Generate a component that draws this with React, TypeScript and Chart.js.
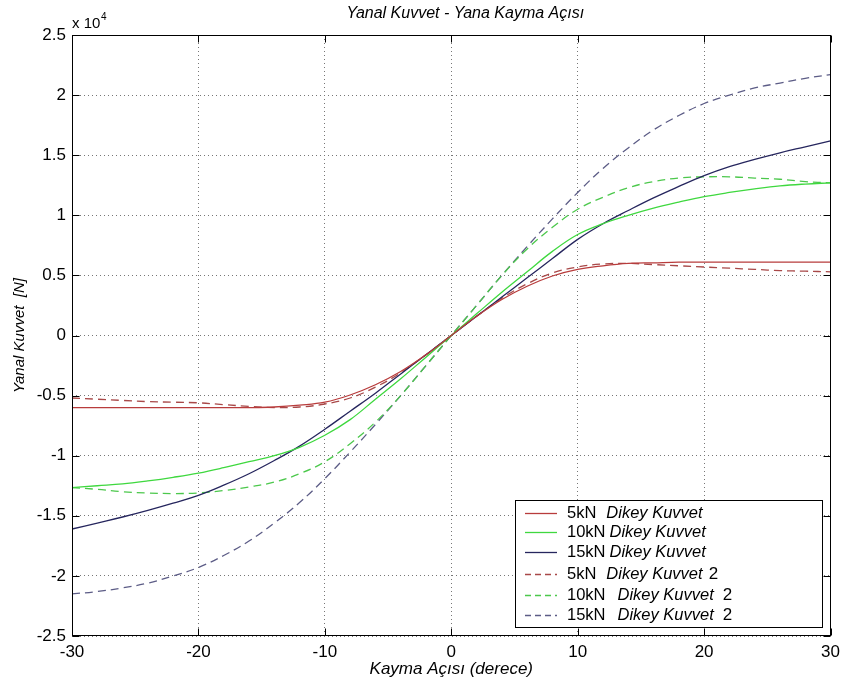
import React, { useEffect, useRef } from 'react';
import { Chart, registerables } from 'chart.js';

Chart.register(...registerables);

// Kayma açısı (derece)
const angles = [-30, -28, -26, -24, -22, -20, -18, -16, -14, -12, -10, -8, -6, -4, -2, 0, 2, 4, 6, 8, 10, 12, 14, 16, 18, 20, 22, 24, 26, 28, 30];

// Yanal kuvvet (x 10^4 N)
const kuvvet5kN = [-0.60, -0.60, -0.60, -0.60, -0.60, -0.60, -0.60, -0.60, -0.595, -0.58, -0.555, -0.495, -0.41, -0.30, -0.16, 0, 0.16, 0.30, 0.41, 0.495, 0.55, 0.58, 0.60, 0.605, 0.61, 0.61, 0.61, 0.61, 0.61, 0.61, 0.61];
const kuvvet10kN = [-1.265, -1.25, -1.235, -1.21, -1.18, -1.145, -1.10, -1.05, -1.00, -0.93, -0.83, -0.70, -0.53, -0.36, -0.18, 0, 0.18, 0.36, 0.53, 0.70, 0.84, 0.93, 1.00, 1.06, 1.11, 1.155, 1.19, 1.22, 1.245, 1.26, 1.27];
const kuvvet15kN = [-1.61, -1.56, -1.51, -1.455, -1.395, -1.33, -1.245, -1.15, -1.04, -0.92, -0.78, -0.63, -0.48, -0.32, -0.16, 0, 0.16, 0.32, 0.48, 0.64, 0.80, 0.93, 1.04, 1.145, 1.24, 1.33, 1.405, 1.465, 1.52, 1.57, 1.62];
const kuvvet5kN2 = [-0.52, -0.53, -0.54, -0.55, -0.555, -0.56, -0.575, -0.59, -0.60, -0.595, -0.57, -0.52, -0.43, -0.31, -0.16, 0, 0.16, 0.31, 0.43, 0.52, 0.57, 0.595, 0.60, 0.59, 0.58, 0.57, 0.56, 0.55, 0.54, 0.535, 0.53];
const kuvvet10kN2 = [-1.265, -1.28, -1.30, -1.31, -1.315, -1.31, -1.29, -1.26, -1.22, -1.15, -1.05, -0.90, -0.72, -0.50, -0.25, 0, 0.25, 0.50, 0.72, 0.90, 1.05, 1.15, 1.23, 1.28, 1.31, 1.32, 1.32, 1.31, 1.30, 1.28, 1.27];
const kuvvet15kN2 = [-2.15, -2.13, -2.10, -2.06, -2.00, -1.93, -1.83, -1.71, -1.56, -1.39, -1.19, -0.97, -0.74, -0.50, -0.25, 0, 0.25, 0.50, 0.74, 0.97, 1.19, 1.39, 1.56, 1.71, 1.83, 1.93, 2.00, 2.06, 2.10, 2.14, 2.17];

const xTicks = [-30, -20, -10, 0, 10, 20, 30];
const yTicks = [-2.5, -2, -1.5, -1, -0.5, 0, 0.5, 1, 1.5, 2, 2.5];

const legendLoads = ['5kN', '10kN', '15kN', '5kN', '10kN', '15kN'];
const legendNames = ['Dikey Kuvvet', 'Dikey Kuvvet', 'Dikey Kuvvet', 'Dikey Kuvvet', 'Dikey Kuvvet', 'Dikey Kuvvet'];
const legendSuffixes = ['', '', '', '2', '2', '2'];

const chartTitle = 'Yanal Kuvvet - Yana Kayma Açısı';
const xTitle = 'Kayma Açısı (derece)';
const yTitle = 'Yanal Kuvvet  [N]';

const FONT = "'Liberation Sans', Arial, sans-serif";

const seriesColors = ['#b83c3c', '#3fd83f', '#26265e', '#a84848', '#4cc84c', '#5c5c86'];
const seriesData = [kuvvet5kN, kuvvet10kN, kuvvet15kN, kuvvet5kN2, kuvvet10kN2, kuvvet15kN2];
const seriesDashed = [false, false, false, true, true, true];

const decorPlugin = {
  id: 'decor',
  afterDatasetsDraw(chart: any) {
    const { ctx, chartArea: a, scales } = chart;
    const xs = scales.x;
    const ys = scales.y;
    ctx.save();
    // axes box
    ctx.strokeStyle = '#000';
    ctx.lineWidth = 1;
    ctx.setLineDash([]);
    const L = Math.round(a.left) + 0.5;
    const R = Math.round(a.right) - 0.5;
    const T = Math.round(a.top) + 0.5;
    const B = Math.round(a.bottom) - 0.5;
    ctx.strokeRect(L, T, R - L, B - T);
    // inner tick marks
    const tl = 7;
    ctx.beginPath();
    xTicks.forEach((v) => {
      const px = Math.round(xs.getPixelForValue(v)) + 0.5;
      ctx.moveTo(px, B);
      ctx.lineTo(px, B - tl);
      ctx.moveTo(px, T);
      ctx.lineTo(px, T + tl);
    });
    yTicks.forEach((v) => {
      const py = Math.round(ys.getPixelForValue(v)) + 0.5;
      ctx.moveTo(L, py);
      ctx.lineTo(L + tl, py);
      ctx.moveTo(R, py);
      ctx.lineTo(R - tl, py);
    });
    ctx.stroke();

    // legend
    const bw = 307;
    const bh = 127;
    const bx = Math.round(a.right) - 9 - bw;
    const by = Math.round(a.bottom) - 9 - bh;
    ctx.fillStyle = '#fff';
    ctx.fillRect(bx, by, bw, bh);
    ctx.strokeStyle = '#000';
    ctx.strokeRect(bx + 0.5, by + 0.5, bw, bh);
    const rowY = [13, 32, 52, 74, 95, 115];
    const nameGap = [10, 4, 4, 10, 12, 12];
    const sufGap = [0, 0, 0, 6, 9, 9];
    chart.data.datasets.forEach((ds: any, i: number) => {
      const y = by + rowY[i];
      ctx.strokeStyle = ds.borderColor;
      ctx.lineWidth = ds.borderWidth;
      ctx.setLineDash(seriesDashed[i] ? [6, 4] : []);
      ctx.beginPath();
      ctx.moveTo(bx + 10, y + 0.5);
      ctx.lineTo(bx + 42, y + 0.5);
      ctx.stroke();
      ctx.setLineDash([]);
      ctx.fillStyle = '#000';
      ctx.textBaseline = 'middle';
      ctx.textAlign = 'left';
      let tx = bx + 52;
      ctx.font = `16.5px ${FONT}`;
      ctx.fillText(legendLoads[i], tx, y);
      tx += ctx.measureText(legendLoads[i]).width + nameGap[i];
      ctx.font = `italic 16.5px ${FONT}`;
      ctx.fillText(legendNames[i], tx, y);
      tx += ctx.measureText(legendNames[i]).width + sufGap[i];
      if (legendSuffixes[i]) {
        ctx.font = `17px ${FONT}`;
        ctx.fillText(legendSuffixes[i], tx, y);
      }
    });
    ctx.restore();
  },
  afterDraw(chart: any) {
    const { ctx, chartArea: a } = chart;
    ctx.save();
    ctx.fillStyle = '#000';
    ctx.textBaseline = 'alphabetic';
    ctx.textAlign = 'center';
    ctx.font = `italic 16px ${FONT}`;
    ctx.fillText(chartTitle, (a.left + a.right) / 2 + 14, 18);
    ctx.textAlign = 'left';
    ctx.font = `15px ${FONT}`;
    ctx.fillText('x 10', a.left, 28);
    ctx.font = `10px ${FONT}`;
    ctx.fillText('4', a.left + 29, 20);
    ctx.restore();
  },
};

export default function App() {
  const ref = useRef<HTMLCanvasElement>(null);
  useEffect(() => {
    document.body.style.margin = '0';
    const canvas = ref.current;
    if (!canvas) return;
    const chart = new Chart(canvas, {
      type: 'line',
      data: {
        labels: angles,
        datasets: seriesData.map((d, i) => ({
          label: `${legendLoads[i]} ${legendNames[i]}${legendSuffixes[i] ? ' ' + legendSuffixes[i] : ''}`,
          data: d.map((v, j) => ({ x: angles[j], y: v })),
          borderColor: seriesColors[i],
          backgroundColor: seriesColors[i],
          borderWidth: 1.3,
          borderDash: seriesDashed[i] ? [8, 5] : [],
          pointRadius: 0,
          fill: false,
          tension: 0.4,
        })),
      },
      options: {
        responsive: false,
        animation: false,
        layout: { padding: { top: 35, right: 12, left: 0, bottom: 0 } },
        plugins: {
          legend: { display: false },
          title: { display: false },
          tooltip: { enabled: false },
        },
        scales: {
          x: {
            type: 'linear',
            min: -30,
            max: 30,
            afterFit: (s: any) => { s.height = 48; },
            afterBuildTicks: (s: any) => { s.ticks = xTicks.map((v) => ({ value: v })); },
            ticks: { font: { family: FONT, size: 17 }, color: '#000', padding: 6, maxRotation: 0, callback: (v: any) => `${v}` },
            grid: { drawTicks: false, color: '#777', lineWidth: 1 },
            border: { display: false, dash: [1, 3] },
            title: {
              display: true,
              text: xTitle,
              font: { family: FONT, size: 17, style: 'italic' },
              color: '#000',
              padding: { top: 0, bottom: 5 },
            },
          },
          y: {
            type: 'linear',
            min: -2.5,
            max: 2.5,
            afterFit: (s: any) => { s.width = 72; },
            afterBuildTicks: (s: any) => { s.ticks = yTicks.map((v) => ({ value: v })); },
            ticks: { font: { family: FONT, size: 17 }, color: '#000', padding: 6, callback: (v: any) => `${v}` },
            grid: { drawTicks: false, color: '#777', lineWidth: 1 },
            border: { display: false, dash: [1, 3] },
            title: {
              display: true,
              text: yTitle,
              font: { family: FONT, size: 15, style: 'italic' },
              color: '#000',
              padding: { top: 11, bottom: 0 },
            },
          },
        },
      },
      plugins: [decorPlugin],
    });
    return () => chart.destroy();
  }, []);
  return (
    <div style={{ width: 846, height: 684 }}>
      <canvas ref={ref} width={846} height={684} style={{ display: 'block' }} />
    </div>
  );
}
